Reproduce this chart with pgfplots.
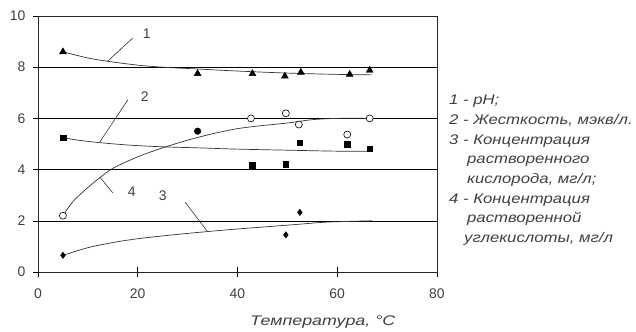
\documentclass[border=0pt]{standalone}
\usepackage{fontspec}
\setmainfont{Liberation Sans}
\newfontfamily\legfont[FakeStretch=1.2]{Liberation Sans}
\newfontfamily\labfont[FakeStretch=1.28]{Liberation Sans}
\usepackage{pgfplots}
\pgfplotsset{compat=1.18}
\begin{document}
\begin{tikzpicture}
\path[use as bounding box] (-38bp,-60bp) rectangle (598bp,272bp);
\begin{axis}[
  scale only axis, width=399bp, height=256bp,
  at={(0,0)}, anchor=south west,
  xmin=0, xmax=80, ymin=0, ymax=10,
  xtick={0,20,40,60,80}, ytick={0,2,4,6,8,10},
  xtick pos=bottom, ytick pos=left,
  tick align=center, major tick length=10bp,
  ymajorgrids, grid style={black, line width=0.6pt},
  axis line style={line width=0.7pt, black!85},
  tick style={black, line width=0.6pt},
  /pgf/number format/assume math mode=true,
  ticklabel style={font=\fontsize{14}{16}\selectfont, text=black!75},
  xticklabel style={yshift=-8bp},
  yticklabel style={xshift=-4bp},
  clip=false,
]
% curves
\addplot[black!80, line width=0.7pt, smooth] coordinates {(5,8.6) (10,8.36) (14,8.23) (20,8.08) (25,8.0) (32,7.93) (40,7.85) (50,7.77) (60,7.72) (67,7.7)};
\addplot[black!80, line width=0.7pt, smooth] coordinates {(5,5.25) (8,5.15) (12,5.06) (18,4.96) (25,4.89) (32,4.85) (40,4.8) (52,4.75) (60,4.72) (67,4.72)};
\addplot[black!80, line width=0.7pt, smooth] coordinates {(5,0.65) (10,0.95) (15,1.15) (20,1.3) (27,1.45) (34,1.58) (40,1.68) (46,1.77) (52,1.86) (58,1.95) (67,2.0)};
\addplot[black!80, line width=0.7pt, smooth] coordinates {(5,2.2) (7,2.75) (10,3.3) (12.5,3.7) (15,4.05) (20,4.5) (25,4.85) (30,5.15) (35,5.4) (40,5.6) (45,5.72) (50,5.82) (55,5.95) (60,6.0) (67,6.0)};
% markers
\addplot[only marks, mark=triangle*, mark size=4bp, black] coordinates {(5,8.6) (32,7.75) (43,7.75) (49.5,7.65) (52.7,7.8) (62.5,7.72) (66.5,7.88)};
\addplot[only marks, mark=square*, mark size=2.8bp, black] coordinates {(5,5.25) (43,4.18) (49.7,4.22) (52.5,5.05) (62,5.0) (66.5,4.82)};
\addplot[only marks, mark=diamond*, mark size=3.2bp, black] coordinates {(5,0.65) (49.7,1.45) (52.5,2.33)};
\addplot[only marks, mark=*, mark size=3.5bp, black, fill=white, line width=0.6pt] coordinates {(5,2.2) (42.7,6.0) (49.7,6.2) (52.3,5.76) (62,5.37) (66.5,6.0)};
\addplot[only marks, mark=*, mark size=3.3bp, black] coordinates {(32,5.5)};
% leaders and labels
\draw[black!80, line width=0.6pt] (axis cs:14,8.24) -- (axis cs:19,9.14);
\draw[black!80, line width=0.6pt] (axis cs:12.4,5.08) -- (axis cs:18,6.72);
\draw[black!80, line width=0.6pt] (axis cs:12.4,3.71) -- (axis cs:15,3.09);
\draw[black!80, line width=0.6pt] (axis cs:29.5,2.73) -- (axis cs:33.9,1.6);
\node[font=\fontsize{14}{16}\selectfont, text=black!75] at (axis cs:21.8,9.3) {1};
\node[font=\fontsize{14}{16}\selectfont, text=black!75] at (axis cs:21.4,6.85) {2};
\node[font=\fontsize{14}{16}\selectfont, text=black!75] at (axis cs:18.8,3.12) {4};
\node[font=\fontsize{14}{16}\selectfont, text=black!75] at (axis cs:25,2.97) {3};
% legend text
\node[anchor=north west, align=left, inner sep=0pt, text=black!75,
  font=\legfont\fontsize{14}{19.7}\selectfont\itshape] at (axis cs:82.4,6.91)
 {1 - pH;\\
  2 - Жесткость, мэкв/л.\\
  3 - Концентрация\\
  \hspace*{18bp}растворенного\\
  \hspace*{18bp}кислорода, мг/л;\\
  4 - Концентрация\\
  \hspace*{18bp}растворенной\\
  \hspace*{15bp}углекислоты, мг/л};
\node[font=\labfont\fontsize{14}{16}\selectfont\itshape, text=black!75] at (axis cs:57.1,-1.95) {Температура, °C};
\end{axis}
\end{tikzpicture}
\end{document}
